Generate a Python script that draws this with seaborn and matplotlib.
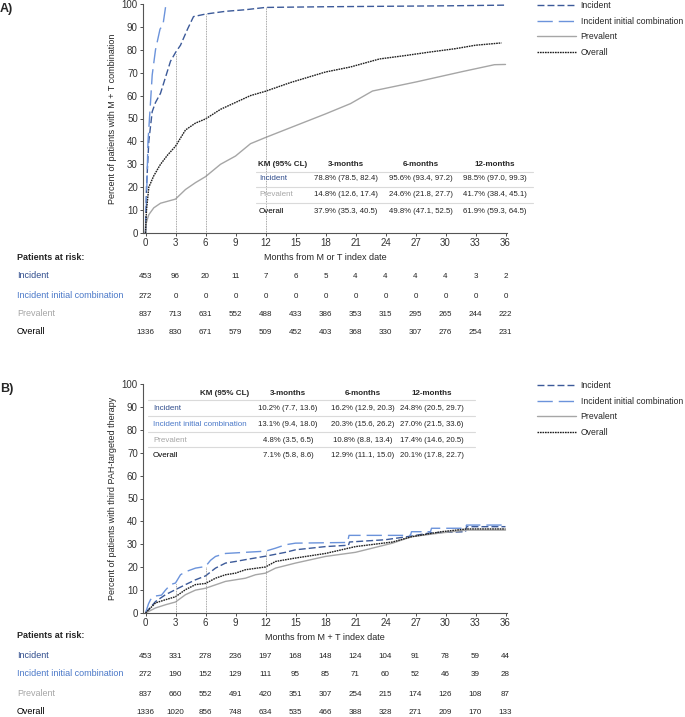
import numpy as np
import pandas as pd
import seaborn as sns
import matplotlib.pyplot as plt
from matplotlib.lines import Line2D
from matplotlib.transforms import blended_transform_factory

series = ["Incident", "Incident initial combination", "Prevalent", "Overall"]
months = [0, 3, 6, 9, 12, 15, 18, 21, 24, 27, 30, 33, 36]

# ---- panel A curves
a_inc_t = [0, 0.1, 0.33, 0.67, 1.0, 1.5, 2.0, 2.5, 3.0, 3.5, 4.2, 4.8, 6.0, 8.0, 10.0, 12.0, 18, 24, 30, 36]
a_inc_y = [0, 20, 40, 53, 57, 61, 68, 75, 78.8, 82, 89, 94.5, 95.6, 96.8, 97.5, 98.5, 98.8, 99.0, 99.2, 99.5]
a_iic_t = [0, 0.1, 0.25, 0.5, 0.67, 1.0, 1.45, 1.75, 2.05]
a_iic_y = [0, 15, 40, 57, 69, 80, 89, 91, 100]
a_prev_t = [0, 0.05, 0.33, 0.83, 1.5, 3.0, 4.0, 5.0, 6.0, 7.5, 9.0, 10.5, 12.0, 14.5, 18.0, 20.5, 22.7, 27.1, 31.7, 34.9, 36]
a_prev_y = [0, 4, 8, 11, 13, 14.8, 19, 22, 24.6, 30, 33.6, 39, 41.7, 46, 52, 56.5, 62, 66, 70.5, 73.5, 73.6]
a_all_t = [0, 0.1, 0.33, 0.83, 1.5, 2.2, 3.0, 4.0, 5.0, 6.0, 7.5, 9.0, 10.5, 12.0, 14.5, 18.0, 20.5, 23.4, 26, 28.4, 31, 33, 35.6]
a_all_y = [0, 10, 20, 25, 30, 34, 37.9, 45, 48, 49.8, 54, 57, 60, 61.9, 65.7, 70.3, 72.5, 76, 77.5, 79, 80.5, 82, 83]

# ---- panel B curves
b_inc_t = [0, 1, 2, 3, 4, 5, 6, 7, 8, 9, 10, 12, 14, 15, 18, 20.3, 20.4, 24, 26.6, 28.5, 32, 32.1, 36]
b_inc_y = [0, 5, 8, 10.2, 12.4, 14.5, 16.2, 19.6, 21.8, 22.5, 23.3, 24.8, 26.5, 27.6, 29, 29.6, 31, 32, 33.6, 35, 35.5, 37.7, 37.7]
b_iic_t = [0, 0.3, 0.5, 0.8, 1.6, 2, 2.5, 3, 3.5, 4, 5, 6, 6.5, 7, 8, 12, 13, 14, 15, 20.2, 20.35,
           26.5, 26.6, 28.5, 28.6, 32, 32.1, 36]
b_iic_y = [0, 4, 5.8, 7.3, 7.8, 10, 12.4, 13.1, 16.7, 18, 19.6, 20.3, 23, 24.7, 26, 27, 28.3, 29.8, 30.5, 30.8, 33.9,
           33.9, 35.5, 35.5, 37, 37, 38.4, 38.4]
b_prev_t = [0, 1, 2, 3, 4, 5, 6, 7, 8, 9, 10, 11, 12, 13, 15, 18, 21, 24.7, 26.6, 29.6, 32.1, 36]
b_prev_y = [0, 2.2, 3.6, 4.8, 8, 10, 10.8, 12.3, 13.8, 14.5, 15.2, 16.7, 17.4, 19.6, 21.8, 24.7, 26.5, 30.5, 33.3, 35, 36.2, 36.2]
b_all_t = [0, 1, 2, 3, 4, 5, 6, 7, 8, 9, 10, 12, 13, 15, 18, 21, 24.7, 26.6, 29.6, 32.1, 36]
b_all_y = [0, 4.4, 5.8, 7.1, 10.2, 12.4, 12.9, 15.2, 16.7, 17.4, 18.9, 20.1, 22.5, 24, 26, 29, 31, 33.3, 35.5, 36.7, 36.7]

# ---- KM tables
a_tab_groups = ["Incident", "Prevalent", "Overall"]
a_tab_3m = ["78.8% (78.5, 82.4)", "14.8% (12.6, 17.4)", "37.9% (35.3, 40.5)"]
a_tab_6m = ["95.6% (93.4, 97.2)", "24.6% (21.8, 27.7)", "49.8% (47.1, 52.5)"]
a_tab_12m = ["98.5% (97.0, 99.3)", "41.7% (38.4, 45.1)", "61.9% (59.3, 64.5)"]
b_tab_groups = series
b_tab_3m = ["10.2% (7.7, 13.6)", "13.1% (9.4, 18.0)", "4.8% (3.5, 6.5)", "7.1% (5.8, 8.6)"]
b_tab_6m = ["16.2% (12.9, 20.3)", "20.3% (15.6, 26.2)", "10.8% (8.8, 13.4)", "12.9% (11.1, 15.0)"]
b_tab_12m = ["24.8% (20.5, 29.7)", "27.0% (21.5, 33.6)", "17.4% (14.6, 20.5)", "20.1% (17.8, 22.7)"]
tab_headers = ["KM (95% CL)", "3-months", "6-months", "12-months"]

# ---- patients at risk
a_risk_inc = [453, 96, 20, 11, 7, 6, 5, 4, 4, 4, 4, 3, 2]
a_risk_iic = [272, 0, 0, 0, 0, 0, 0, 0, 0, 0, 0, 0, 0]
a_risk_prev = [837, 713, 631, 552, 488, 433, 386, 353, 315, 295, 265, 244, 222]
a_risk_all = [1336, 830, 671, 579, 509, 452, 403, 368, 330, 307, 276, 254, 231]
b_risk_inc = [453, 331, 278, 236, 197, 168, 148, 124, 104, 91, 78, 59, 44]
b_risk_iic = [272, 190, 152, 129, 111, 95, 85, 71, 60, 52, 46, 39, 28]
b_risk_prev = [837, 660, 552, 491, 420, 351, 307, 254, 215, 174, 126, 108, 87]
b_risk_all = [1336, 1020, 856, 748, 634, 535, 466, 388, 328, 271, 209, 170, 133]

line_colors = {"Incident": "#3C5A99", "Incident initial combination": "#6B93DB",
               "Prevalent": "#A6A6A6", "Overall": "#1F1F1F"}
text_colors = {"Incident": "#2F4C8C", "Incident initial combination": "#4A78C8",
               "Prevalent": "#A6A6A6", "Overall": "#000000"}
dash_map = {"Incident": (5, 2.2), "Incident initial combination": (11, 4.3),
            "Prevalent": "", "Overall": (1.2, 0.6)}

W, H = 685, 717
def fx(x):
    return x / W
def fy(y):
    return 1 - y / H

sns.set_theme(style="ticks")
plt.rcParams["font.family"] = ["Liberation Sans", "DejaVu Sans"]
plt.rcParams["axes.edgecolor"] = "#555555"

fig = plt.figure(figsize=(6.85, 7.17), dpi=100)


def long_df(ts, ys):
    frames = [pd.DataFrame({"month": t, "pct": y, "group": g}) for g, t, y in zip(series, ts, ys)]
    return pd.concat(frames, ignore_index=True)


def draw_panel(top, df, xlabel, ylabel, tab, risk, risk_y, letter):
    ax = fig.add_axes([fx(143), fy(top + 229), fx(507) - fx(143), 229 / H])
    sns.lineplot(data=df, x="month", y="pct", hue="group", style="group",
                 hue_order=series, style_order=series, palette=line_colors,
                 dashes=dash_map, estimator=None, sort=False, errorbar=None,
                 lw=1.0, ax=ax)
    ax.set_xlim(-0.25, 36.15)
    ax.set_ylim(0, 100)
    ax.set_xticks(months)
    ax.set_yticks(np.arange(0, 101, 10))
    ax.tick_params(labelsize=7, length=2.2, width=0.6, pad=1.5, colors="#333333")
    for s in ["left", "bottom"]:
        ax.spines[s].set_linewidth(0.8)
    sns.despine(ax=ax)
    ax.set_xlabel(xlabel, fontsize=6.5)
    ax.xaxis.set_label_coords(0.5, -0.108)
    ax.xaxis.label.set_verticalalignment("center")
    ax.set_ylabel(ylabel, fontsize=6.5)
    ax.yaxis.set_label_coords(-0.083, 0.5)
    ax.yaxis.label.set_verticalalignment("center")

    # KM table and reference lines
    groups, cols, geo = tab
    hx, hha, hy, row_y, line_y, x0, x1, lab_x, col_x = geo
    heights = [max(float(s.split("%")[0]) for s in c) for c in cols]
    ax.vlines([3, 6, 12], 0, heights, colors="#888888", linestyles=(0, (1, 1)), lw=0.6)
    fig.text(fx(hx), fy(hy), tab_headers[0], ha=hha, va="center", fontsize=5.8, weight="bold")
    for cx, h in zip(col_x, tab_headers[1:]):
        fig.text(fx(cx), fy(hy), h, ha="center", va="center", fontsize=5.8, weight="bold")
    for ly in line_y:
        fig.add_artist(Line2D([fx(x0), fx(x1)], [fy(ly), fy(ly)], color="#DADADA", lw=0.8))
    for i, g in enumerate(groups):
        fig.text(fx(lab_x), fy(row_y[i]), g, ha="left", va="center", fontsize=5.8, color=text_colors[g])
        for cx, c in zip(col_x, cols):
            fig.text(fx(cx), fy(row_y[i]), c[i], ha="center", va="center", fontsize=5.6, color="#222222")

    sns.move_legend(ax, "upper left", bbox_to_anchor=(1.082, 1.011), frameon=False, title=None,
                    fontsize=6.2, handlelength=4.5, handletextpad=0.57, labelspacing=0.74,
                    borderpad=0, borderaxespad=0)

    # patients at risk
    trans = blended_transform_factory(ax.transData, fig.transFigure)
    fig.text(fx(17), fy(risk_y[0]), "Patients at risk:", ha="left", va="center", fontsize=6.5, weight="bold")
    for g, counts, ry in zip(series, risk, risk_y[1:]):
        fig.text(fx(17), fy(ry), g, ha="left", va="center", fontsize=6.5, color=text_colors[g])
        for m, n in zip(months, counts):
            ax.text(m, fy(ry + 1), str(n), transform=trans, ha="center", va="center", fontsize=5.8, color="#222222")
    fig.text(fx(0), fy(top + 5), letter, ha="left", va="center", fontsize=9, weight="bold")
    return ax


df_a = long_df([a_inc_t, a_iic_t, a_prev_t, a_all_t], [a_inc_y, a_iic_y, a_prev_y, a_all_y])
df_b = long_df([b_inc_t, b_iic_t, b_prev_t, b_all_t], [b_inc_y, b_iic_y, b_prev_y, b_all_y])

draw_panel(4, df_a, "Months from M or T index date",
           "Percent of patients with M + T combination",
           (a_tab_groups, [a_tab_3m, a_tab_6m, a_tab_12m],
            (258, "left", 164, [179, 195, 211], [172, 187, 203], 256, 533, 259, [346, 421, 495])),
           [a_risk_inc, a_risk_iic, a_risk_prev, a_risk_all], [257, 276, 295, 314, 332], "A)")

draw_panel(384, df_b, "Months from M + T index date",
           "Percent of patients with third PAH-targeted therapy",
           (b_tab_groups, [b_tab_3m, b_tab_6m, b_tab_12m],
            (225, "center", 393, [408, 424, 440, 455], [400, 416, 432, 447], 148, 475, 153, [288, 363, 432])),
           [b_risk_inc, b_risk_iic, b_risk_prev, b_risk_all], [635, 655, 674, 694, 712], "B)")

fig.savefig("out.png", dpi=100)
